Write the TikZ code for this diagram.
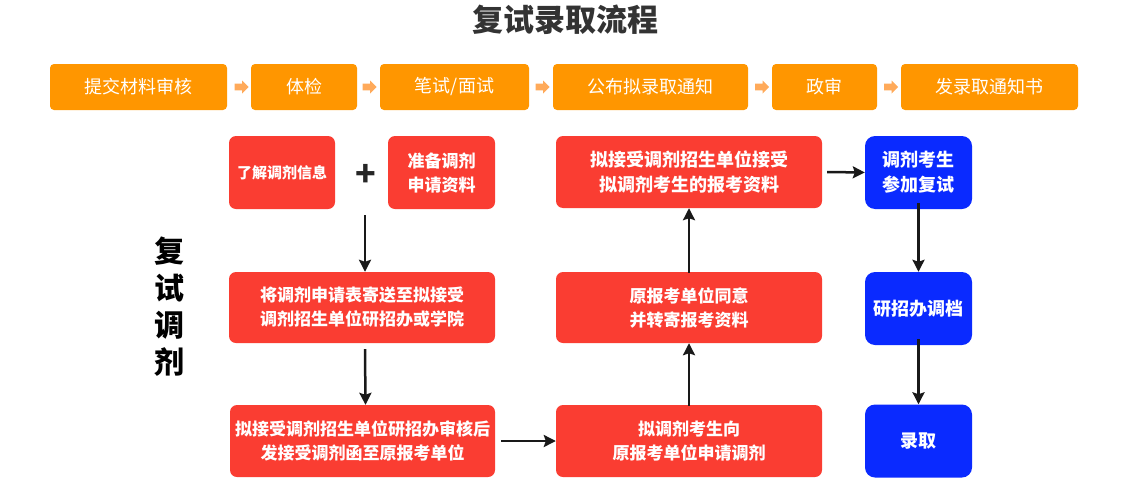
\documentclass[tikz,border=0pt]{standalone}
\usepackage{fontspec}
\setmainfont{Noto Sans CJK SC}
\usetikzlibrary{shapes.arrows,arrows.meta}
\definecolor{orgbox}{HTML}{FF9600}
\definecolor{orgarr}{HTML}{FFAA5A}
\definecolor{redbox}{HTML}{FA3D32}
\definecolor{bluebox}{HTML}{0A2AFF}
\definecolor{titlec}{HTML}{333333}
\tikzset{
  topbox/.style={fill=orgbox, rounded corners=4pt, minimum height=46pt, text=white, font=\fontsize{18}{22}\selectfont, inner sep=0pt},
  topar/.style={single arrow, fill=orgarr, minimum height=14pt, minimum width=13pt, single arrow head extend=3pt, inner xsep=0pt, inner ysep=3pt},
  redbox/.style={fill=redbox, rounded corners=7pt, text=white, align=center, font=\bfseries\fontsize{17}{24}\selectfont, inner sep=0pt},
  bluebox/.style={fill=bluebox, rounded corners=10pt, text=white, align=center, font=\bfseries\fontsize{18}{25}\selectfont, minimum width=107pt, minimum height=73pt, inner sep=0pt},
  flow/.style={draw=black!90, line width=2.5pt, -{Stealth[length=12pt,width=12pt,inset=2pt]}}
}
\begin{document}
\begin{tikzpicture}[x=1pt,y=-1pt]
\useasboundingbox (0,0) rectangle (1140,498);
\node[font=\bfseries\fontsize{31}{34}\selectfont, text=titlec] (title) at (565,20) {复试录取流程};
% top row
\node[topbox, minimum width=177pt] (t1) at (138.5,87) {提交材料审核};
\node[topbox, minimum width=106pt] (t2) at (304,87) {体检};
\node[topbox, minimum width=149pt] (t3) at (454.5,87) {笔试/面试};
\node[topbox, minimum width=195pt] (t4) at (650.5,87) {公布拟录取通知};
\node[topbox, minimum width=105pt] (t5) at (824.5,87) {政审};
\node[topbox, minimum width=177pt] (t6) at (989.5,87) {发录取通知书};
\node[topar] (a1) at (240,87) {};
\node[topar] (a2) at (368,87) {};
\node[topar] (a3) at (541,87) {};
\node[topar] (a4) at (760.5,87) {};
\node[topar] (a5) at (889.5,87) {};
% side label
\node[font=\bfseries\fontsize{30}{37}\selectfont, align=center, text=black] (side) at (169,307) {复\\试\\调\\剂};
% red boxes
\node[redbox, minimum width=106pt, minimum height=73pt, font=\bfseries\fontsize{15}{20}\selectfont] (r1) at (282,172.5) {了解调剂信息};
\node[font=\bfseries\fontsize{34}{34}\selectfont, text=black!85] (plus) at (366,175) {+};
\node[redbox, minimum width=107pt, minimum height=73pt] (r2) at (441.5,172.5) {准备调剂\\申请资料};
\node[redbox, minimum width=266pt, minimum height=72pt, font=\bfseries\fontsize{18}{25}\selectfont] (r3) at (689,172) {拟接受调剂招生单位接受\\拟调剂考生的报考资料};
\node[redbox, minimum width=266pt, minimum height=71pt] (r4) at (362,307.5) {将调剂申请表寄送至拟接受\\调剂招生单位研招办或学院};
\node[redbox, minimum width=266pt, minimum height=71pt] (r5) at (689,307.5) {原报考单位同意\\并转寄报考资料};
\node[redbox, minimum width=265pt, minimum height=72pt] (r6) at (362.5,441) {拟接受调剂招生单位研招办审核后\\发接受调剂函至原报考单位};
\node[redbox, minimum width=266pt, minimum height=72pt] (r7) at (689,441) {拟调剂考生向\\原报考单位申请调剂};
% blue boxes
\node[bluebox] (b1) at (918.5,172.5) {调剂考生\\参加复试};
\node[bluebox] (b2) at (918.5,308.5) {研招办调档};
\node[bluebox] (b3) at (918.5,441) {录取};
% connectors
\coordinate (s1) at (365,215);
\draw[flow] (s1) -- (s1 |- r4.north);
\draw[flow] ([xshift=3pt,yshift=-6pt]r4.south) -- ([xshift=3pt]r6.north);
\draw[flow] ([xshift=6pt]r6.east) -- (r7.west);
\draw[flow] ([yshift=-1pt]r7.north) -- (r5.south);
\draw[flow] ([yshift=-1pt]r5.north) -- (r3.south);
\draw[flow] ([xshift=5pt]r3.east) -- (b1.west);
\draw[flow] ([yshift=6pt]b1.south) -- (b2.north);
\draw[flow] ([yshift=6pt]b2.south) -- (b3.north);
\end{tikzpicture}
\end{document}
